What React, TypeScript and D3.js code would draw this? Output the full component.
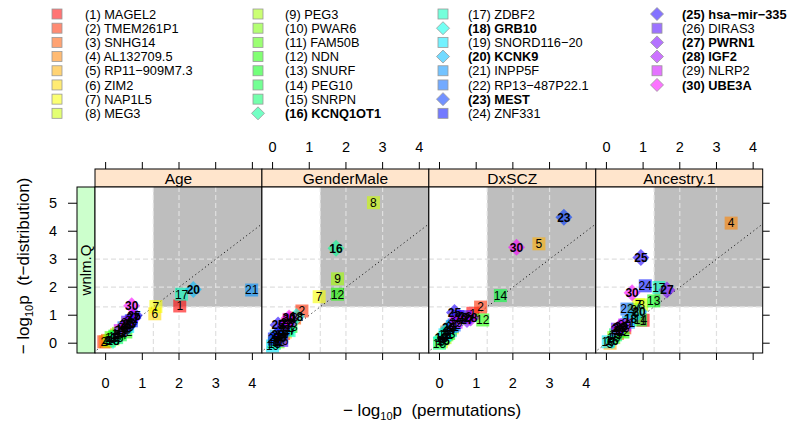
import React from "react";
import * as d3 from "d3";

const genes = ["MAGEL2","TMEM261P1","SNHG14","AL132709.5","RP11−909M7.3","ZIM2","NAP1L5","MEG3","PEG3","PWAR6","FAM50B","NDN","SNURF","PEG10","SNRPN","KCNQ1OT1","ZDBF2","GRB10","SNORD116−20","KCNK9","INPP5F","RP13−487P22.1","MEST","ZNF331","hsa−mir−335","DIRAS3","PWRN1","IGF2","NLRP2","UBE3A"];
const diamondGenes = [16, 18, 20, 23, 25, 27, 28, 30];
const panelNames = ["Age", "GenderMale", "DxSCZ", "Ancestry.1"];
const rowName = "wnlm.Q";
const xTicks = [0, 1, 2, 3, 4];
const yTicks = [0, 1, 2, 3, 4, 5];
const refLines = [-Math.log10(0.05), 2, 3];

const ageX = [2.02,-0.05,0.05,0.0,0.3,1.34,1.37,0.2,0.1,0.35,0.15,0.55,0.25,0.4,0.3,0.45,2.07,0.2,0.6,2.39,3.98,0.5,0.65,0.7,0.78,0.6,0.75,0.55,0.4,0.71];
const ageY = [1.33,0.05,0.1,0.05,0.3,1.05,1.31,0.15,0.08,0.35,0.2,0.4,0.25,0.3,0.2,0.5,1.75,0.1,0.6,1.92,1.9,0.55,0.7,0.8,1.0,0.75,0.9,0.65,0.45,1.34];
const genderX = [0.3,0.8,0.6,0.2,0.1,0.35,1.27,2.75,1.77,0.25,0.15,1.77,0.5,0.4,0.05,1.73,0.45,0.65,0.0,0.2,0.1,0.3,0.15,0.05,0.15,0.25,0.35,0.4,0.45,0.45];
const genderY = [0.35,1.15,0.9,0.15,0.1,0.4,1.66,5.02,2.3,0.3,0.05,1.75,0.6,0.5,0.0,3.39,0.45,0.95,-0.1,0.2,0.25,0.5,0.3,0.15,0.65,0.1,0.65,0.75,0.85,0.9];
const dxX = [0.91,1.12,0.3,0.2,2.71,0.1,0.35,0.05,0.15,0.6,0.2,1.18,0.25,1.66,0.0,0.1,0.3,0.05,0.15,0.25,0.35,0.4,3.39,0.5,0.41,0.7,0.75,0.85,0.45,2.1];
const dxY = [1.07,1.29,0.5,0.4,3.55,0.15,0.55,0.05,0.2,0.9,0.3,0.83,0.35,1.7,0.0,0.1,0.45,0.2,0.3,0.55,0.6,0.65,4.5,0.95,1.1,0.95,0.85,0.9,0.75,3.43];
const ancX = [1.0,0.5,0.3,3.4,0.1,0.8,0.87,0.96,0.75,0.2,0.35,0.45,1.29,0.93,0.25,0.15,1.43,0.66,0.05,0.89,0.6,0.56,0.4,1.06,0.94,0.3,1.65,0.35,0.5,0.7];
const ancY = [0.82,0.55,0.35,4.29,0.0,1.1,1.37,1.37,1.2,0.2,0.45,0.4,1.51,0.83,0.3,0.1,1.99,0.86,0.05,1.13,0.75,1.22,0.6,2.05,3.06,0.5,1.9,0.55,0.65,1.8];

const panelX = [ageX, genderX, dxX, ancX];
const panelY = [ageY, genderY, dxY, ancY];

const color = (i: number) => d3.hsl(i * 10.3, 1, 0.5).formatHex();
const FONT = "'Liberation Sans', Arial, Helvetica, sans-serif";

const PL = 95, PR = 762.7, PT = 187, PB = 353, STRIP_T = 169;
const PW = (PR - PL) / 4;

function Diamond({ cx, cy, r, fill, opacity, stroke }: any) {
  const p = `M${cx},${cy - r}L${cx + r},${cy}L${cx},${cy + r}L${cx - r},${cy}Z`;
  return <path d={p} fill={fill} fillOpacity={opacity} stroke={stroke ?? "none"} strokeWidth={0.8} />;
}

export default function App() {
  const y = d3.scaleLinear().domain([-0.35, 5.58]).range([PB, PT]);
  const legendCols = [
    { sx: 57, tx: 85 },
    { sx: 258, tx: 285 },
    { sx: 443, tx: 468 },
    { sx: 657, tx: 682 },
  ];
  const rowY = (r: number) => 14 + r * 14.19;

  return (
    <svg width={787} height={426} style={{ position: "absolute", left: 0, top: 0, fontFamily: FONT }}>
      <rect x={0} y={0} width={787} height={426} fill="#fff" />
      {/* legend */}
      {genes.map((g, i) => {
        const col = i < 8 ? 0 : i < 16 ? 1 : i < 24 ? 2 : 3;
        const row = i - col * 8;
        const { sx, tx } = legendCols[col];
        const cy = rowY(row);
        const isD = diamondGenes.includes(i + 1);
        return (
          <g key={g}>
            {isD ? (
              <Diamond cx={sx} cy={cy} r={6.5} fill={color(i)} opacity={0.55} stroke="#999" />
            ) : (
              <rect x={sx - 5} y={cy - 5} width={10} height={10} fill={color(i)} fillOpacity={0.55} stroke="#999" strokeWidth={0.8} />
            )}
            <text x={tx} y={cy} dy="0.36em" fontSize={12.8} fontWeight={isD ? "bold" : "normal"} fill="#000">
              {`(${i + 1}) ${g}`}
            </text>
          </g>
        );
      })}

      {/* left row strip */}
      <rect x={77} y={PT} width={PL - 77} height={PB - PT} fill="#ccffcc" stroke="#000" strokeWidth={1} />
      <text transform={`translate(${(77 + PL) / 2},${(PT + PB) / 2}) rotate(-90)`} textAnchor="middle" dy="0.36em" fontSize={15}>{rowName}</text>

      {/* y axis left */}
      {yTicks.map((t) => (
        <g key={"yl" + t}>
          <line x1={68} x2={77} y1={y(t)} y2={y(t)} stroke="#000" />
          <text x={53} y={y(t)} dy="0.36em" textAnchor="middle" fontSize={14.5}>{t}</text>
          <line x1={PR} x2={PR + 7} y1={y(t)} y2={y(t)} stroke="#000" />
        </g>
      ))}

      {panelNames.map((name, p) => {
        const left = PL + p * PW;
        const x = d3.scaleLinear().domain([-0.29, 4.26]).range([left, left + PW]);
        const xs = panelX[p];
        const ys = panelY[p];
        const clipId = "clip" + p;
        const g0 = x(refLines[0]);
        const gy0 = y(refLines[0]);
        return (
          <g key={name}>
            <defs>
              <clipPath id={clipId}>
                <rect x={left} y={PT} width={PW} height={PB - PT} />
              </clipPath>
            </defs>
            {/* strip */}
            <rect x={left} y={STRIP_T} width={PW} height={PT - STRIP_T} fill="#ffe5cc" stroke="#000" strokeWidth={1} />
            <text x={left + PW / 2} y={(STRIP_T + PT) / 2 + 0.5} dy="0.36em" textAnchor="middle" fontSize={15.5}>{name}</text>
            <g clipPath={`url(#${clipId})`}>
              <rect x={left} y={PT} width={PW} height={PB - PT} fill="#fff" />
              <rect x={g0} y={PT} width={left + PW - g0} height={gy0 - PT} fill="#bebebe" />
              {refLines.map((v) => (
                <g key={"rl" + v}>
                  <line x1={x(v)} x2={x(v)} y1={PT} y2={PB} stroke="#e0e0e0" strokeWidth={1.2} strokeDasharray="5,3" />
                  <line x1={left} x2={left + PW} y1={y(v)} y2={y(v)} stroke="#e0e0e0" strokeWidth={1.2} strokeDasharray="5,3" />
                </g>
              ))}
              <line x1={x(-0.5)} y1={y(-0.5)} x2={x(4.5)} y2={y(4.5)} stroke="#000" strokeWidth={1} strokeDasharray="1,3" />
              {xs.map((xv, i) => {
                const isD = diamondGenes.includes(i + 1);
                const cx = x(xv), cy = y(ys[i]);
                return isD ? (
                  <Diamond key={"pt" + i} cx={cx} cy={cy} r={8.5} fill={color(i)} opacity={0.6} />
                ) : (
                  <rect key={"pt" + i} x={cx - 6.5} y={cy - 6.5} width={13} height={13} fill={color(i)} fillOpacity={0.6} />
                );
              })}
              {xs.map((xv, i) => {
                const isD = diamondGenes.includes(i + 1);
                return (
                  <text key={"lb" + i} x={x(xv)} y={y(ys[i])} dy="0.36em" textAnchor="middle" fontSize={12} fontWeight={isD ? "bold" : "normal"} fill="#000">
                    {i + 1}
                  </text>
                );
              })}
            </g>
            <rect x={left} y={PT} width={PW} height={PB - PT} fill="none" stroke="#000" strokeWidth={1} />
            {/* x ticks */}
            {xTicks.map((t) => (
              <g key={"xt" + t}>
                <line x1={x(t)} x2={x(t)} y1={PB} y2={PB + 7} stroke="#000" />
                <line x1={x(t)} x2={x(t)} y1={STRIP_T} y2={STRIP_T - 7} stroke="#000" />
                {p % 2 === 0 ? (
                  <text x={x(t)} y={383} dy="0.36em" textAnchor="middle" fontSize={14.5}>{t}</text>
                ) : (
                  <text x={x(t)} y={147} dy="0.36em" textAnchor="middle" fontSize={14.5}>{t}</text>
                )}
              </g>
            ))}
          </g>
        );
      })}

      {/* axis titles */}
      <text x={432} y={410} dy="0.36em" textAnchor="middle" fontSize={17} style={{ whiteSpace: "pre" }}>
        <tspan>− log</tspan>
        <tspan fontSize={11} dy="3.5">10</tspan>
        <tspan dy="-3.5">p  (permutations)</tspan>
      </text>
      <text transform={`translate(23,266) rotate(-90)`} textAnchor="middle" dy="0.36em" fontSize={17} style={{ whiteSpace: "pre" }}>
        <tspan>− log</tspan>
        <tspan fontSize={11} dy="3.5">10</tspan>
        <tspan dy="-3.5">p  (t−distribution)</tspan>
      </text>
    </svg>
  );
}
